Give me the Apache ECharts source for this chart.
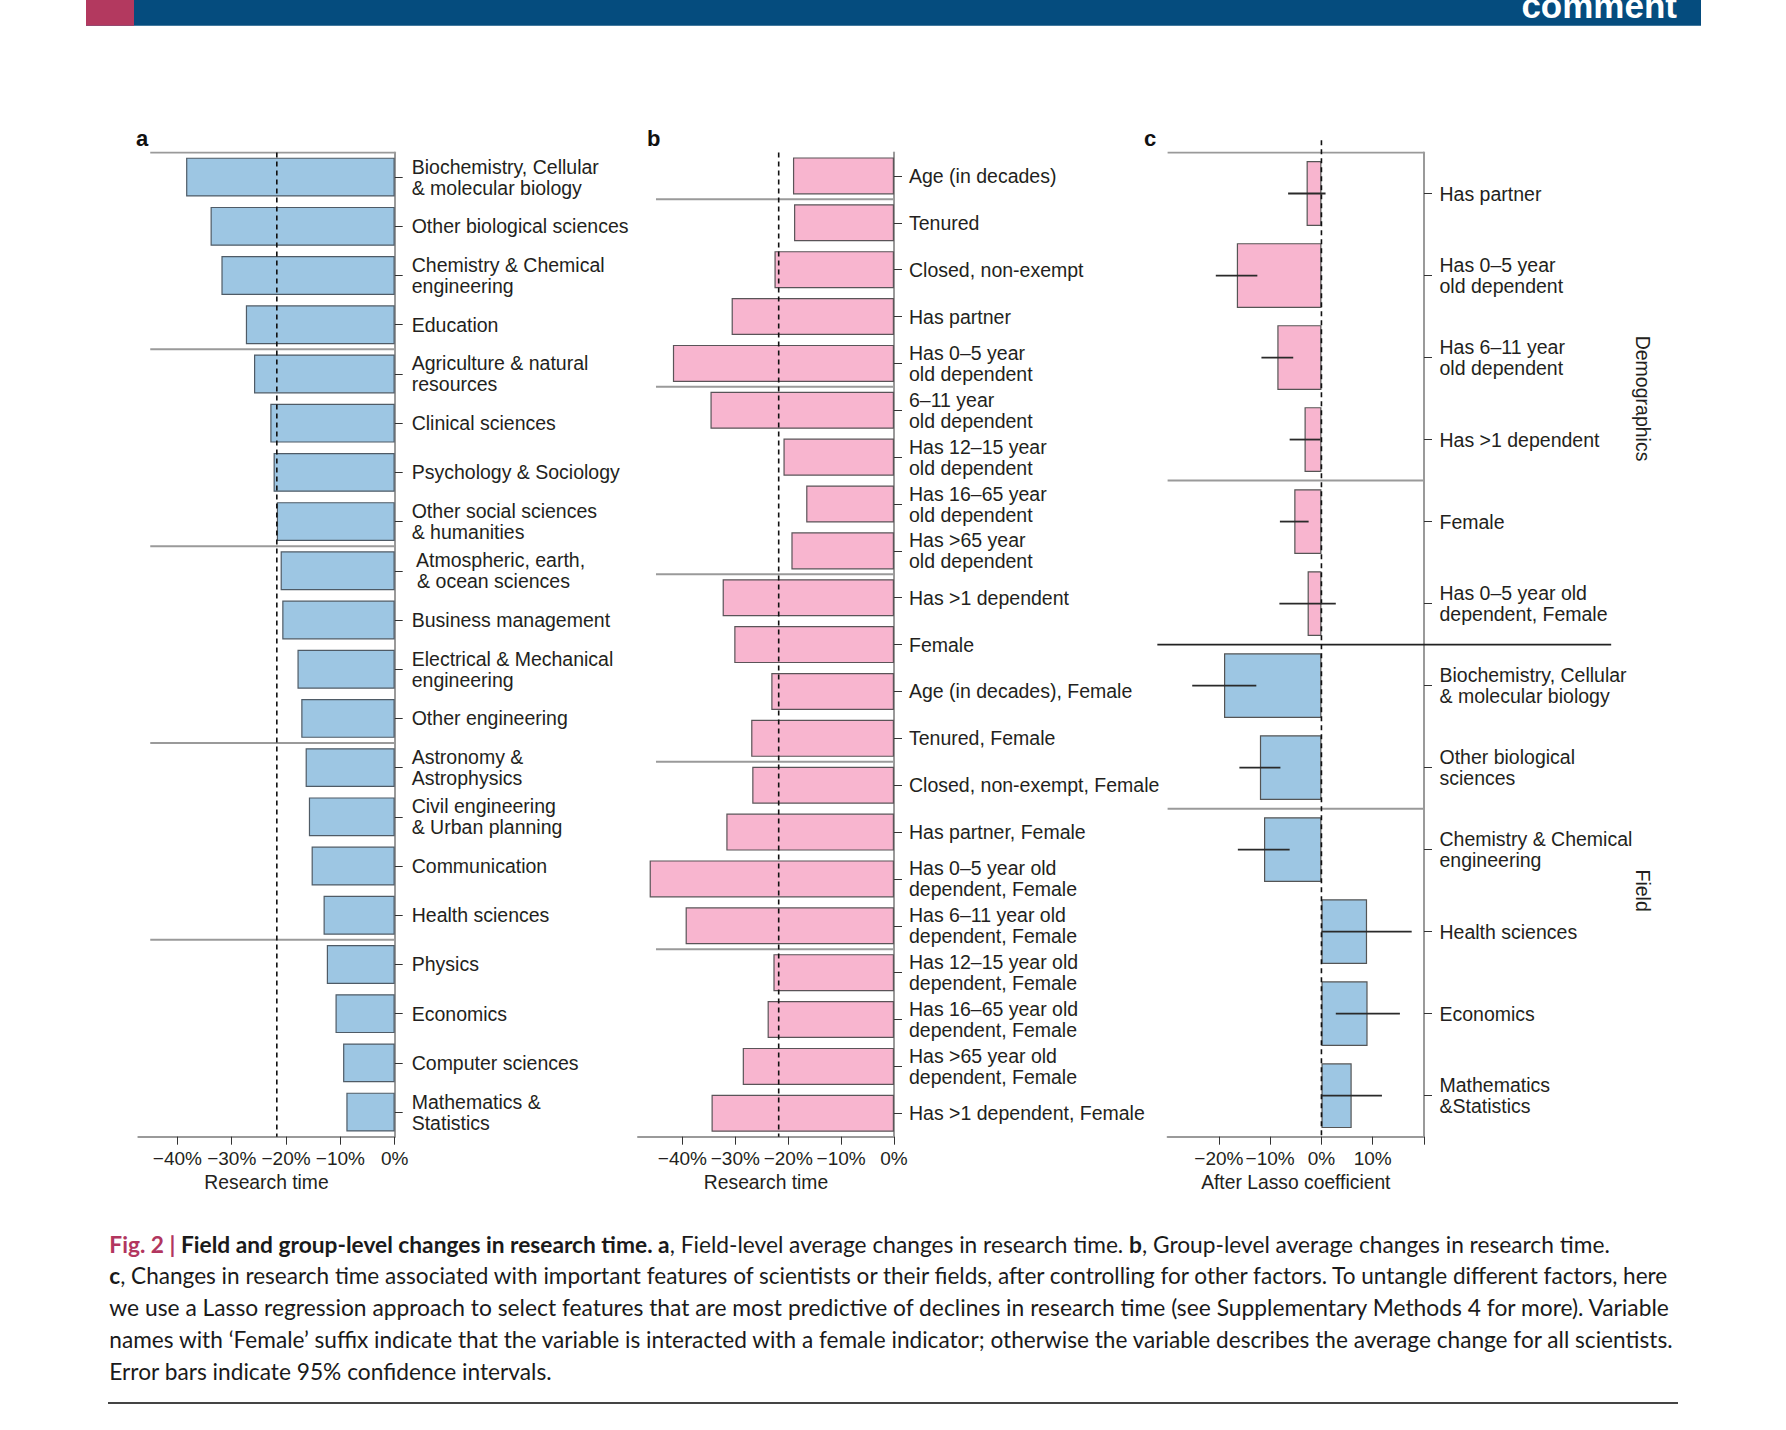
<!DOCTYPE html>
<html><head><meta charset="utf-8">
<script src="https://cdn.jsdelivr.net/npm/echarts@6/dist/echarts.min.js"></script>
<style>html,body{margin:0;padding:0;background:#fff}#chart{width:1786px;height:1430px}</style>
</head><body><div id="chart"></div>
<script>
// ---------- data ----------
const fieldsA = [
  "Biochemistry, Cellular\n& molecular biology", "Other biological sciences", "Chemistry & Chemical\nengineering",
  "Education", "Agriculture & natural\nresources", "Clinical sciences", "Psychology & Sociology",
  "Other social sciences\n& humanities", " Atmospheric, earth,\n & ocean sciences", "Business management",
  "Electrical & Mechanical\nengineering", "Other engineering", "Astronomy &\nAstrophysics",
  "Civil engineering\n& Urban planning", "Communication", "Health sciences", "Physics", "Economics",
  "Computer sciences", "Mathematics &\nStatistics"
];
const valuesA = [-38.4, -33.9, -31.9, -27.4, -25.9, -22.9, -22.3, -21.7, -21.0, -20.7,
  -17.9, -17.2, -16.4, -15.8, -15.3, -13.1, -12.5, -10.9, -9.5, -8.9];
const avgA = -21.7;
const sepA = [0, 4, 8, 12, 16];

const groupsB = [
  "Age (in decades)", "Tenured", "Closed, non-exempt", "Has partner", "Has 0\u20135 year\nold dependent",
  "6\u201311 year\nold dependent", "Has 12\u201315 year\nold dependent", "Has 16\u201365 year\nold dependent",
  "Has >65 year\nold dependent", "Has >1 dependent", "Female", "Age (in decades), Female", "Tenured, Female",
  "Closed, non-exempt, Female", "Has partner, Female", "Has 0\u20135 year old\ndependent, Female",
  "Has 6\u201311 year old\ndependent, Female", "Has 12\u201315 year old\ndependent, Female",
  "Has 16\u201365 year old\ndependent, Female", "Has >65 year old\ndependent, Female", "Has >1 dependent, Female"
];
const valuesB = [-19.1, -18.9, -22.6, -30.7, -41.8, -34.7, -20.9, -16.6, -19.4, -32.4,
  -30.2, -23.2, -27.0, -26.8, -31.7, -46.2, -39.4, -22.8, -23.9, -28.6, -34.5];
const avgB = -21.8;
const sepB = [1, 5, 9, 13, 17];

const featuresC = [
  "Has partner", "Has 0\u20135 year\nold dependent", "Has 6\u201311 year\nold dependent", "Has >1 dependent",
  "Female", "Has 0\u20135 year old\ndependent, Female", "Biochemistry, Cellular\n& molecular biology",
  "Other biological\nsciences", "Chemistry & Chemical\nengineering", "Health sciences", "Economics",
  "Mathematics\n&Statistics"
];
const valuesC = [-2.9, -16.5, -8.6, -3.3, -5.3, -2.7, -19.0, -12.0, -11.2, 8.9, 9.0, 5.9];
const ciLowC  = [-6.5, -20.6, -11.7, -6.2, -8.1, -8.2, -25.2, -16.0, -16.3, 0.0, 2.8, 0.0];
const ciHighC = [0.8, -12.5, -5.5, -0.2, -2.5, 2.8, -12.7, -8.0, -6.2, 17.6, 15.3, 11.8];
const kindC = [0, 0, 0, 0, 0, 0, 1, 1, 1, 1, 1, 1]; // 0 = demographics, 1 = field
const sepC = [0, 4, 8];
const majorSepC = 6;
const majorSepExtentC = [-32, 56.5];
const sideLabelsC = [["Demographics", 3], ["Field", 9]];

const ticksAB = [-40, -30, -20, -10, 0];
const ticksC = [-20, -10, 0, 10, 20];
const tickLabelsC = [-20, -10, 0, 10];

// ---------- style ----------
const FONT = "'Liberation Sans', Arial, Helvetica, sans-serif";
const TXT = '#231f20';
const BLUE = '#9dc6e3', PINK = '#f8b5cf';
const pct = v => (v === 0 ? '0%' : (v < 0 ? '\u2212' : '') + Math.abs(v) + '%');

const TOP = 152.5, H = 984.2;
const grids = [
  { left: 138.3, top: TOP, width: 256.4, height: H },
  { left: 638, top: TOP, width: 256, height: H },
  { left: 1167.6, top: TOP, width: 256.4, height: H }
];
const xRanges = [[-47.2, 0], [-48.4, 0], [-30, 20]];
const xNames = ['Research time', 'Research time', 'After Lasso coefficient'];
const labelMargins = [17, 15, 15.5];
const cats = [fieldsA, groupsB, featuresC];

const xAxis = grids.map((g, k) => ({
  type: 'value', gridIndex: k, position: 'bottom', min: xRanges[k][0], max: xRanges[k][1],
  axisLine: { show: true, onZero: false, lineStyle: { color: '#9a9a9a', width: 2 } },
  axisTick: { show: true, length: 8, lineStyle: { color: '#333', width: 1 }, customValues: k < 2 ? ticksAB : ticksC },
  axisLabel: { customValues: k < 2 ? ticksAB : tickLabelsC, formatter: pct, fontSize: 19, color: TXT, fontFamily: FONT, margin: 12 },
  splitLine: { show: false },
  name: xNames[k], nameLocation: 'middle', nameGap: 33,
  nameTextStyle: { fontSize: 19.3, color: TXT, fontFamily: FONT }
}));

const yAxis = [];
grids.forEach((g, k) => {
  yAxis.push({
    type: 'category', gridIndex: k, data: cats[k], inverse: true, position: 'right',
    axisLine: { show: true, onZero: false, lineStyle: { color: '#9a9a9a', width: 2 } },
    axisTick: { show: true, alignWithLabel: true, length: 8, lineStyle: { color: '#333', width: 1 } },
    axisLabel: { margin: labelMargins[k], color: TXT, fontSize: 19.5, fontFamily: FONT, lineHeight: 21, align: 'left', interval: 0 },
    splitLine: { show: false }
  });
  yAxis.push({ type: 'value', gridIndex: k, min: 0, max: cats[k].length, inverse: true, show: false });
});

const series = [];
function seg(k, pts, color, width, z, dashed, clip) {
  series.push({
    type: 'line', xAxisIndex: k, yAxisIndex: 2 * k + 1, data: pts, symbol: 'none', silent: true, z,
    clip: clip !== false,
    lineStyle: { color, width, type: dashed ? [5, 4] : 'solid' }
  });
}
// group separators
sepA.forEach(b => seg(0, [[-45, b], [0, b]], '#9a9a9a', 2, 1));
sepB.forEach(b => seg(1, [[-45, b], [0, b]], '#9a9a9a', 2, 1));
sepC.forEach(b => seg(2, [[-30, b], [20, b]], '#9a9a9a', 2, 1));
// major separator in panel c (extends beyond the plot on both sides)
series.push({
  type: 'custom', xAxisIndex: 2, yAxisIndex: 5, silent: true, z: 1, clip: false,
  data: [[majorSepExtentC[0], majorSepExtentC[1], majorSepC]],
  encode: { x: [0, 1], y: 2 },
  renderItem: (params, api) => {
    const [lo, hi] = xRanges[2];
    const a = api.coord([lo, api.value(2)]);
    const b = api.coord([hi, api.value(2)]);
    const ppu = (b[0] - a[0]) / (hi - lo);
    return {
      type: 'line',
      shape: { x1: a[0] + (api.value(0) - lo) * ppu, y1: a[1], x2: a[0] + (api.value(1) - lo) * ppu, y2: a[1] },
      style: { stroke: '#222', lineWidth: 1.6 }
    };
  }
});

// bars
const barBase = { type: 'bar', barCategoryGap: '21%', silent: true, z: 2 };
series.push(Object.assign({}, barBase, { xAxisIndex: 0, yAxisIndex: 0, data: valuesA,
  itemStyle: { color: BLUE, borderColor: '#4f5b66', borderWidth: 1.2 } }));
series.push(Object.assign({}, barBase, { xAxisIndex: 1, yAxisIndex: 2, data: valuesB,
  itemStyle: { color: PINK, borderColor: '#5a5458', borderWidth: 1.2 } }));
series.push(Object.assign({}, barBase, { xAxisIndex: 2, yAxisIndex: 4,
  data: valuesC.map((v, i) => ({ value: v, itemStyle: { color: kindC[i] ? BLUE : PINK } })),
  itemStyle: { borderColor: '#555', borderWidth: 1.2 } }));

// average / zero dashed lines
seg(0, [[avgA, 0], [avgA, fieldsA.length]], '#111', 1.6, 3, true);
seg(1, [[avgB, 0], [avgB, groupsB.length]], '#111', 1.6, 3, true);
seg(2, [[0, -0.15], [0, featuresC.length]], '#111', 1.6, 3, true, false);

// error bars (panel c)
series.push({
  type: 'custom', xAxisIndex: 2, yAxisIndex: 4, silent: true, z: 4,
  data: ciLowC.map((lo, i) => [lo, ciHighC[i], i]),
  encode: { x: [0, 1], y: 2 },
  renderItem: (params, api) => {
    const s = api.coord([api.value(0), api.value(2)]);
    const e = api.coord([api.value(1), api.value(2)]);
    return { type: 'line', shape: { x1: s[0], y1: s[1], x2: e[0], y2: e[1] }, style: { stroke: '#2a2a2a', lineWidth: 1.8 } };
  }
});

// ---------- caption ----------
const CAP_FONT = 'Lato, "Noto Sans", sans-serif';
const CAP_SIZE = 23;
const captionLines = [
  [['r', 'Fig. 2 | '], ['b', 'Field and group-level changes in research time. a'], ['n', ', Field-level average changes in research time. '], ['b', 'b'], ['n', ', Group-level average changes in research time.']],
  [['b', 'c'], ['n', ', Changes in research time associated with important features of scientists or their fields, after controlling for other factors. To untangle different factors, here']],
  [['n', 'we use a Lasso regression approach to select features that are most predictive of declines in research time (see Supplementary Methods 4 for more). Variable']],
  [['n', 'names with \u2018Female\u2019 suffix indicate that the variable is interacted with a female indicator; otherwise the variable describes the average change for all scientists.']],
  [['n', 'Error bars indicate 95% confidence intervals.']]
];
const captionWidths = [1501, 1563, 1563, 1567, 443];
const mctx = document.createElement('canvas').getContext('2d');
function lineWidth(segs) {
  let w = 0;
  segs.forEach(([st, t]) => { mctx.font = (st === 'n' ? '' : 'bold ') + CAP_SIZE + 'px ' + CAP_FONT; w += mctx.measureText(t).width; });
  return w;
}
const rich = {
  r: { fontFamily: CAP_FONT, fontSize: CAP_SIZE, fontWeight: 'bold', fill: '#b2365f' },
  b: { fontFamily: CAP_FONT, fontSize: CAP_SIZE, fontWeight: 'bold', fill: '#1a1a1a' },
  n: { fontFamily: CAP_FONT, fontSize: CAP_SIZE, fontWeight: 'normal', fill: '#1a1a1a' }
};
const graphic = [
  { type: 'rect', shape: { x: 86, y: 0, width: 1615, height: 25.7 }, style: { fill: '#054c7e' }, silent: true },
  { type: 'rect', shape: { x: 86, y: 0, width: 48, height: 25.7 }, style: { fill: '#b3395f' }, silent: true },
  { type: 'text', x: 1677, y: 5, style: { text: 'comment', fill: '#fff', font: 'bold 35px ' + FONT, align: 'right', verticalAlign: 'middle' }, silent: true },
  { type: 'text', x: 136, y: 138.5, style: { text: 'a', fill: '#111', font: 'bold 22px ' + FONT, verticalAlign: 'middle' } },
  { type: 'text', x: 647, y: 138.5, style: { text: 'b', fill: '#111', font: 'bold 22px ' + FONT, verticalAlign: 'middle' } },
  { type: 'text', x: 1144, y: 138.5, style: { text: 'c', fill: '#111', font: 'bold 22px ' + FONT, verticalAlign: 'middle' } },
  { type: 'line', shape: { x1: 108, y1: 1403, x2: 1678, y2: 1403 }, style: { stroke: '#444', lineWidth: 2 }, silent: true }
];
const bandC = H / featuresC.length;
sideLabelsC.forEach(([t, c]) => graphic.push({
  type: 'text', x: 1642.5, y: TOP + c * bandC, rotation: -Math.PI / 2,
  style: { text: t, fill: TXT, font: '19.5px ' + FONT, align: 'center', verticalAlign: 'middle' }
}));
captionLines.forEach((segs, i) => {
  const sx = captionWidths[i] / lineWidth(segs);
  graphic.push({
    type: 'text', x: 109.3, y: 1251.7 - 7.5 + i * 31.6, scaleX: sx,
    style: { text: segs.map(([st, t]) => '{' + st + '|' + t + '}').join(''), rich, fontFamily: CAP_FONT, fontSize: CAP_SIZE, verticalAlign: 'middle' }
  });
});

const chart = echarts.init(document.getElementById('chart'), null, { renderer: 'svg', width: 1786, height: 1430 });
chart.setOption({
  animation: false,
  backgroundColor: '#fff',
  grid: grids.map(g => Object.assign({ outerBoundsMode: 'none', containLabel: false }, g)),
  xAxis, yAxis, series, graphic
});
</script></body></html>
